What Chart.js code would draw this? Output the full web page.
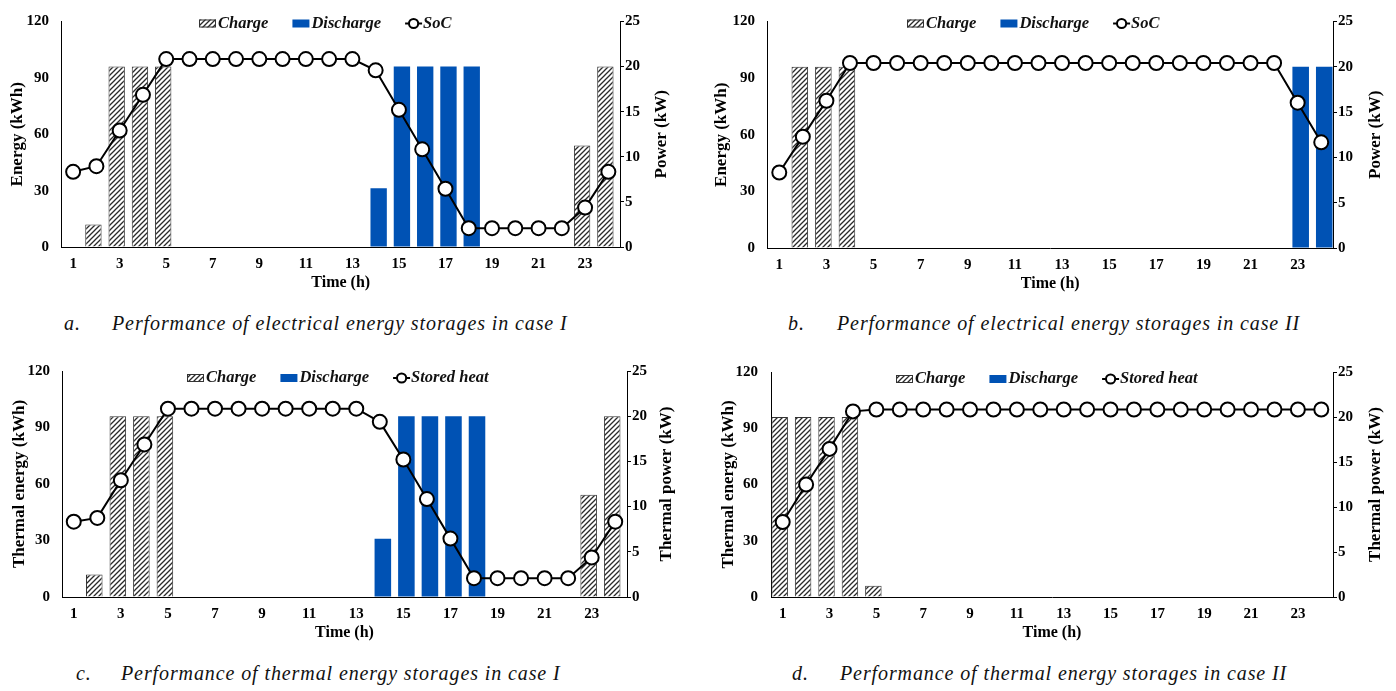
<!DOCTYPE html>
<html><head><meta charset="utf-8">
<script src="https://cdn.jsdelivr.net/npm/chart.js@4.4.0/dist/chart.umd.min.js"></script>
<style>
html,body{margin:0;padding:0;background:#fff;width:1396px;height:691px;overflow:hidden;}
body{position:relative;}
canvas{position:absolute;}
.cap{position:absolute;font-family:'Liberation Serif','Times New Roman',serif;font-style:italic;font-size:20px;letter-spacing:0.9px;color:#111;white-space:nowrap;line-height:20px;}
</style></head><body>
<canvas id="ca" width="674" height="300" style="left:0px;top:0px"></canvas>
<canvas id="cb" width="688" height="300" style="left:700px;top:0px"></canvas>
<canvas id="cc" width="679" height="300" style="left:0px;top:350px"></canvas>
<canvas id="cd" width="688" height="300" style="left:700px;top:350px"></canvas>
<span class="cap" style="left:64px;top:313px">a.</span>
<span class="cap" style="left:112px;top:313px">Performance of electrical energy storages in case I</span>
<span class="cap" style="left:788px;top:313px">b.</span>
<span class="cap" style="left:837px;top:313px">Performance of electrical energy storages in case II</span>
<span class="cap" style="left:76px;top:663px">c.</span>
<span class="cap" style="left:121px;top:663px">Performance of thermal energy storages in case I</span>
<span class="cap" style="left:792px;top:663px">d.</span>
<span class="cap" style="left:840px;top:663px">Performance of thermal energy storages in case II</span>
<script>
// ---- categories & tick labels ----
const hours = ['1','2','3','4','5','6','7','8','9','10','11','12','13','14','15','16','17','18','19','20','21','22','23','24'];
const xTickLabels = ['1','','3','','5','','7','','9','','11','','13','','15','','17','','19','','21','','23',''];
const energyTicks = [0,30,60,90,120];
const powerTicks = [0,5,10,15,20,25];

// ---- a. electrical, case I (power kW / energy kWh) ----
const elecChargeI    = [null,2.5,20,20,20,null,null,null,null,null,null,null,null,null,null,null,null,null,null,null,null,null,11.25,20];
const elecDischargeI = [null,null,null,null,null,null,null,null,null,null,null,null,null,6.5,20,20,20,20,null,null,null,null,null,null];
const elecSocI       = [40,43,62,81,100,100,100,100,100,100,100,100,100,94,73,52,31,10,10,10,10,10,21,40];

// ---- b. electrical, case II ----
const elecChargeII    = [null,20,20,20,null,null,null,null,null,null,null,null,null,null,null,null,null,null,null,null,null,null,null,null];
const elecDischargeII = [null,null,null,null,null,null,null,null,null,null,null,null,null,null,null,null,null,null,null,null,null,null,20,20];
const elecSocII       = [40,59,78,98,98,98,98,98,98,98,98,98,98,98,98,98,98,98,98,98,98,98,77,56];

// ---- c. thermal, case I ----
const thermChargeI    = [null,2.5,20,20,20,null,null,null,null,null,null,null,null,null,null,null,null,null,null,null,null,null,11.3,20];
const thermDischargeI = [null,null,null,null,null,null,null,null,null,null,null,null,null,6.45,20,20,20,20,null,null,null,null,null,null];
const thermHeatI      = [40,42,62,81,100,100,100,100,100,100,100,100,100,93,73,52,31,10,10,10,10,10,21,40];

// ---- d. thermal, case II ----
const thermChargeII    = [20,20,20,20,1.25,null,null,null,null,null,null,null,null,null,null,null,null,null,null,null,null,null,null,null];
const thermDischargeII = [null,null,null,null,null,null,null,null,null,null,null,null,null,null,null,null,null,null,null,null,null,null,null,null];
const thermHeatII      = [40,60,79,99,100,100,100,100,100,100,100,100,100,100,100,100,100,100,100,100,100,100,100,100];

const BLUE = '#0052B4';
const FONT = "'Liberation Serif','Times New Roman',serif";

function hatch(ctx){
  const s = 5;
  const c = document.createElement('canvas'); c.width = s; c.height = s;
  const g = c.getContext('2d');
  g.fillStyle = '#ffffff'; g.fillRect(0,0,s,s);
  g.strokeStyle = '#2a2a2a'; g.lineWidth = 1.3;
  g.beginPath();
  g.moveTo(0,s); g.lineTo(s,0);
  g.moveTo(-1,1); g.lineTo(1,-1);
  g.moveTo(s-1,s+1); g.lineTo(s+1,s-1);
  g.stroke();
  return ctx.createPattern(c,'repeat');
}

// legend drawn over the top of the plot area + right axis title read bottom-to-top
const overlayLegend = {
  id:'overlayLegend',
  afterDraw(chart){
    const o = chart.options.plugins.overlayLegend || {};
    const ctx = chart.ctx, ca = chart.chartArea;
    ctx.save();
    ctx.font = "italic bold 16.5px " + FONT;
    ctx.textBaseline = 'middle';
    ctx.textAlign = 'left';
    let x = ca.left + o.start;
    const y = ca.top + o.dy;
    const ds = chart.data.datasets;
    ds.forEach(d => {
      if (d.type === 'line') {
        ctx.strokeStyle = '#000'; ctx.lineWidth = 2;
        ctx.beginPath(); ctx.moveTo(x, y); ctx.lineTo(x+17, y); ctx.stroke();
        ctx.beginPath(); ctx.arc(x+8.5, y, 4.6, 0, Math.PI*2);
        ctx.fillStyle = '#fff'; ctx.fill(); ctx.stroke();
        x += 18;
      } else {
        ctx.fillStyle = d.backgroundColor;
        ctx.fillRect(x, y-4, 17, 8);
        if (d.borderWidth) { ctx.strokeStyle = '#333'; ctx.lineWidth = 1; ctx.strokeRect(x+0.5, y-3.5, 16, 7); }
        x += 19;
      }
      ctx.fillStyle = '#111';
      ctx.fillText(d.label, x, y);
      x += ctx.measureText(d.label).width + 24;
    });
    ctx.restore();
    // right axis title
    ctx.save();
    ctx.font = "bold 17px " + FONT;
    ctx.fillStyle = '#000';
    ctx.textAlign = 'center';
    ctx.textBaseline = 'middle';
    ctx.translate(o.rTitleX, (ca.top + ca.bottom) / 2);
    ctx.rotate(-Math.PI/2);
    ctx.fillText(o.rTitle, 0, 0);
    ctx.restore();
  }
};

function makeChart(id, p){
  const ctx = document.getElementById(id).getContext('2d');
  const tickFont = {family:FONT, size:15, weight:'bold'};
  return new Chart(ctx, {
    type:'bar',
    data:{
      labels:hours,
      datasets:[
        {label:'Charge', data:p.charge, backgroundColor:hatch(ctx), borderColor:'#333', borderWidth:1,
         yAxisID:'yR', order:1, categoryPercentage:0.515, barPercentage:2.73},
        {label:'Discharge', data:p.discharge, backgroundColor:BLUE, borderWidth:0,
         yAxisID:'yR', order:1, categoryPercentage:0.515, barPercentage:2.73},
        {type:'line', label:p.lineLabel, data:p.line, yAxisID:'yL', order:0,
         borderColor:'#000', borderWidth:2, tension:0, fill:false,
         pointRadius:7, pointBorderWidth:2, pointBackgroundColor:'#fff', pointBorderColor:'#000'}
      ]
    },
    options:{
      responsive:false, animation:false, events:[],
      layout:{padding:{top:16, left:0, right:0, bottom:p.padB}},
      plugins:{legend:{display:false}, tooltip:{enabled:false},
               overlayLegend:{start:p.legStart, dy:p.legDy, rTitle:p.yRTitle, rTitleX:p.rTitleX}},
      scales:{
        x:{type:'category', offset:true,
           grid:{display:false, drawTicks:false},
           border:{display:true, color:'#000', width:1},
           ticks:{autoSkip:false, maxRotation:0, minRotation:0, padding:8, color:'#000', font:tickFont,
                  callback:(v,i)=>xTickLabels[i]},
           title:{display:true, text:'Time (h)', color:'#000', font:{family:FONT,size:16,weight:'bold'}, padding:{top:0,bottom:0}},
           afterFit:s=>{s.height=45;}},
        yL:{type:'linear', position:'left', min:0, max:120,
            afterBuildTicks:s=>{s.ticks = energyTicks.map(v=>({value:v}));},
            grid:{display:false, drawTicks:false},
            border:{display:true, color:'#000', width:1},
            ticks:{padding:p.yLtp, color:'#000', font:tickFont},
            title:{display:true, text:p.yLTitle, color:'#000', font:{family:FONT,size:17,weight:'bold'}, padding:{top:p.yLtitle,bottom:0}},
            afterFit:s=>{s.width=p.yLw;}},
        yR:{type:'linear', position:'right', min:0, max:25,
            afterBuildTicks:s=>{s.ticks = powerTicks.map(v=>({value:v}));},
            grid:{display:true, drawOnChartArea:false, drawTicks:true, tickLength:4, color:'#000'},
            border:{display:true, color:'#000', width:1},
            ticks:{padding:1, color:'#000', font:tickFont},
            title:{display:false},
            afterFit:s=>{s.width=p.yRw;}}
      }
    },
    plugins:[overlayLegend]
  });
}

makeChart('ca', {charge:elecChargeI, discharge:elecDischargeI, line:elecSocI, lineLabel:'SoC',
  yLTitle:'Energy (kWh)', yRTitle:'Power (kW)', yLw:61.5, yLtp:12.5, yLtitle:7.8, yRw:54, padB:8, legStart:137.5, legDy:2, rTitleX:662});
makeChart('cb', {charge:elecChargeII, discharge:elecDischargeII, line:elecSocII, lineLabel:'SoC',
  yLTitle:'Energy (kWh)', yRTitle:'Power (kW)', yLw:67.5, yLtp:12.5, yLtitle:11.8, yRw:55, padB:7, legStart:139.5, legDy:2, rTitleX:676});
makeChart('cc', {charge:thermChargeI, discharge:thermDischargeI, line:thermHeatI, lineLabel:'Stored heat',
  yLTitle:'Thermal energy (kWh)', yRTitle:'Thermal power (kW)', yLw:62, yLtp:12, yLtitle:9.8, yRw:52, padB:8, legStart:125, legDy:7, rTitleX:667});
makeChart('cd', {charge:thermChargeII, discharge:thermDischargeII, line:thermHeatII, lineLabel:'Stored heat',
  yLTitle:'Thermal energy (kWh)', yRTitle:'Thermal power (kW)', yLw:71, yLtp:13, yLtitle:18.8, yRw:55, padB:8, legStart:125, legDy:7, rTitleX:676});
</script>
</body></html>
